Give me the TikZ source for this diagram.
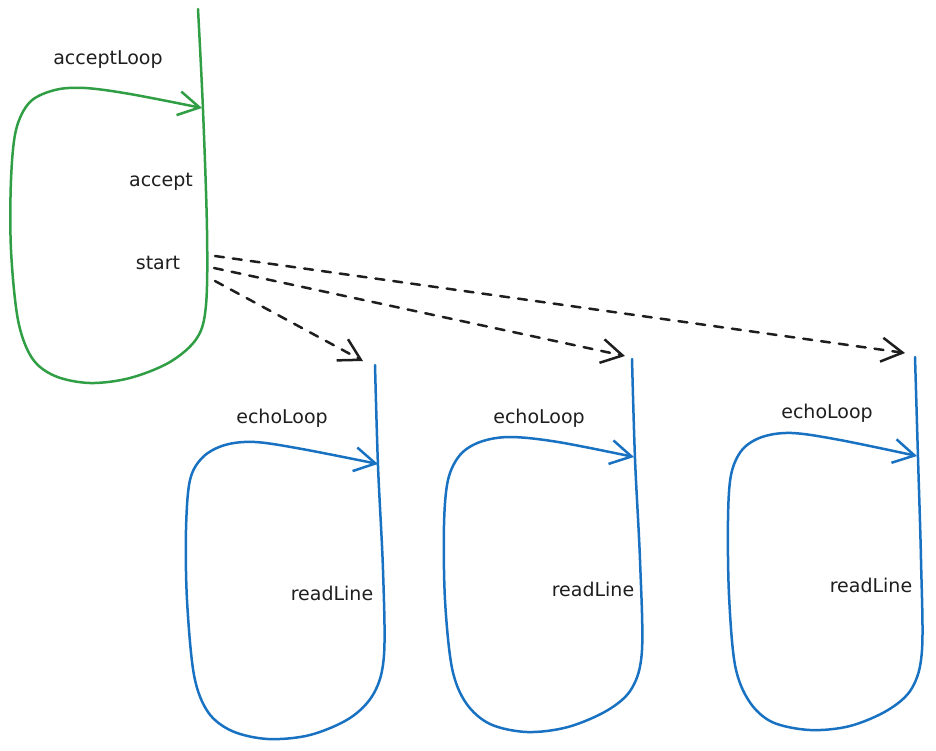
\documentclass[tikz,border=0pt]{standalone}
\usepackage{fontspec}
\setmainfont{DejaVu Sans}
\usetikzlibrary{arrows.meta}
\definecolor{exgreen}{HTML}{2F9E44}
\definecolor{exblue}{HTML}{1971C2}
\definecolor{exink}{HTML}{1E1E1E}
\tikzset{
  barb/.style={-{Straight Barb[length=21pt,width=24pt]}},
  loopline/.style={line width=2.5pt, line cap=round, line join=round, barb},
  greenloop/.style={loopline, draw=exgreen},
  blueloop/.style={loopline, draw=exblue},
  spawn/.style={draw=exink, line width=2.5pt, line cap=round, line join=round,
    dash pattern=on 9pt off 9pt, barb},
  lbl/.style={text=exink, font=\fontsize{19}{22}\selectfont, inner sep=0pt}
}
\begin{document}
\begin{tikzpicture}[x=1pt,y=-1pt]
\useasboundingbox (0,0) rectangle (936,751);
% green accept loop
\coordinate (gtop) at (198,9);
\coordinate (gtip) at (202,108);
\draw[greenloop] plot[smooth, tension=0.55] coordinates {
  (gtop) (203,110) (207,230) (206,305) (197,338) (170,362) (130,378) (90,383)
  (55,376) (32,358) (18,320) (11,250) (11,180) (16,130) (30,102) (55,90)
  (85,88) (130,94) (gtip)};
\node[lbl] (acceptLoop) at (108,60) {acceptLoop};
\node[lbl] (accept) at (161,182) {accept};
\node[lbl] (start) at (158,263) {start};
% blue loop 1
\coordinate (b1top) at (375,365);
\coordinate (b1tip) at (378,464);
\draw[blueloop] plot[smooth, tension=0.55] coordinates {
  (b1top) (378,466) (383,570) (384,655) (374,693) (350,718) (310,735) (268,739)
  (232,731) (208,712) (194,675) (187,600) (186,530) (190,480) (203,457)
  (225,445) (255,442) (302,449) (b1tip)};
\node[lbl] (echo1) at (282,418) {echoLoop};
\node[lbl] (read1) at (332,593) {readLine};
% blue loop 2
\coordinate (b2top) at (632,359);
\coordinate (b2tip) at (634,457);
\draw[blueloop] plot[smooth, tension=0.55] coordinates {
  (b2top) (635,459) (640,560) (642,650) (632,688) (608,710) (568,727) (527,732)
  (490,724) (466,703) (452,668) (445,600) (444,525) (448,480) (460,455)
  (480,442) (510,437) (558,442) (b2tip)};
\node[lbl] (echo2) at (539,418) {echoLoop};
\node[lbl] (read2) at (593,589) {readLine};
% blue loop 3
\coordinate (b3top) at (915,357);
\coordinate (b3tip) at (917,456);
\draw[blueloop] plot[smooth, tension=0.55] coordinates {
  (b3top) (918,458) (921,560) (922,650) (912,688) (888,710) (850,726) (810,730)
  (772,722) (749,701) (735,665) (729,595) (728,520) (731,475) (742,450)
  (762,437) (792,433) (840,440) (b3tip)};
\node[lbl] (echo3) at (827,413) {echoLoop};
\node[lbl] (read3) at (871,585) {readLine};
% spawn arrows
\coordinate (s1) at (215,256);
\coordinate (s2) at (214,268);
\coordinate (s3) at (215,281);
\coordinate (t1) at (905,353);
\coordinate (t2) at (625,356);
\coordinate (t3) at (363,361);
\draw[spawn] (s1) -- (t1);
\draw[spawn] (s2) -- (t2);
\draw[spawn] (s3) -- (t3);
\end{tikzpicture}
\end{document}
